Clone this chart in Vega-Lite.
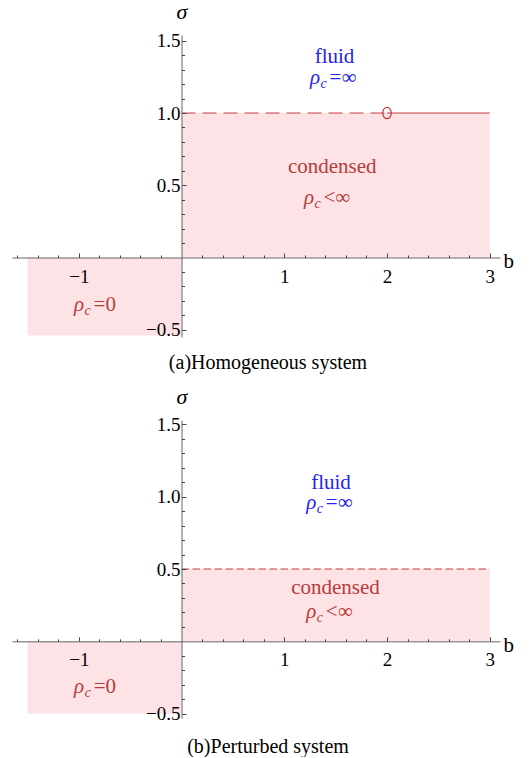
{
  "$schema": "https://vega.github.io/schema/vega-lite/v6.json",
  "background": "white",
  "padding": {"left": 12, "top": 0, "right": 0, "bottom": 0},
  "spacing": 12,
  "config": {"view": {"stroke": null}},
  "vconcat": [
    {
      "width": 488,
      "height": 302,
      "title": {"text": "(a)Homogeneous system", "orient": "bottom", "anchor": "middle", "offset": 13, "dx": 12, "font": "Liberation Serif, serif", "fontSize": 20, "fontWeight": "normal", "color": "#000"},
      "encoding": {
        "x": {"field": "x", "type": "quantitative", "scale": {"domain": [-1.65, 3.1], "nice": false, "zero": false}, "axis": null},
        "y": {"field": "y", "type": "quantitative", "scale": {"domain": [-0.55, 1.54], "nice": false, "zero": false}, "axis": null}
      },
      "layer": [
        {
          "data": {"values": [{"x": 0, "x2": 3, "y": 0, "y2": 1}, {"x": -1.5, "x2": 0, "y": -0.54, "y2": 0}]},
          "mark": {"type": "rect", "color": "#fde3e5"},
          "encoding": {
            "x": {"field": "x", "type": "quantitative", "scale": {"domain": [-1.65, 3.1], "nice": false, "zero": false},
              "axis": {"orient": "bottom", "offset": -79.47, "values": [-1, 1, 2, 3], "format": "d", "tickSize": -4.5, "tickWidth": 1, "tickColor": "#444", "domainColor": "#666", "domainWidth": 1, "labelFont": "Liberation Serif, serif", "labelFontSize": 19, "labelColor": "#000", "labelPadding": 14, "labelFlush": false, "labelOverlap": false, "grid": false, "title": "b", "titleFont": "Liberation Serif, serif", "titleFontSize": 21, "titleFontWeight": "normal", "titleColor": "#000", "titleAngle": 0, "titleAlign": "left", "titleBaseline": "alphabetic", "titleX": 491, "titleY": 10, "zindex": 1}},
            "x2": {"field": "x2"},
            "y": {"field": "y", "type": "quantitative", "scale": {"domain": [-0.55, 1.54], "nice": false, "zero": false},
              "axis": {"orient": "left", "offset": -169.5, "values": [-0.5, 0.5, 1, 1.5], "format": ".1f", "tickSize": -4.5, "tickWidth": 1, "tickColor": "#444", "domainColor": "#666", "domainWidth": 1, "labelFont": "Liberation Serif, serif", "labelFontSize": 19, "labelColor": "#000", "labelPadding": 6, "labelFlush": false, "labelOverlap": false, "grid": false, "title": "σ", "titleFont": "Liberation Serif, serif", "titleFontStyle": "italic", "titleFontSize": 22, "titleFontWeight": "normal", "titleColor": "#000", "titleAngle": 0, "titleAlign": "center", "titleBaseline": "alphabetic", "titleX": 0, "titleY": -17, "zindex": 1}},
            "y2": {"field": "y2"}
          }
        },
        {
          "data": {"values": [{"x": 0, "y": 1}, {"x": 2, "y": 1}]},
          "mark": {"type": "line", "color": "#c4393c", "strokeWidth": 1, "strokeDash": [14, 7]},
          "encoding": {
            "x": {"field": "x", "type": "quantitative", "scale": {"domain": [-1.65, 3.1], "nice": false, "zero": false},
              "axis": {"orient": "bottom", "offset": -79.47, "values": [-1.6, -1.4, -1.2, -0.8, -0.6, -0.4, -0.2, 0.2, 0.4, 0.6, 0.8, 1.2, 1.4, 1.6, 1.8, 2.2, 2.4, 2.6, 2.8], "tickSize": -2.5, "tickWidth": 1, "tickColor": "#444", "labels": false, "domain": false, "grid": false, "title": null, "zindex": 1}},
            "y": {"field": "y", "type": "quantitative", "scale": {"domain": [-0.55, 1.54], "nice": false, "zero": false},
              "axis": {"orient": "left", "offset": -169.5, "values": [-0.4, -0.3, -0.2, -0.1, 0.1, 0.2, 0.3, 0.4, 0.6, 0.7, 0.8, 0.9, 1.1, 1.2, 1.3, 1.4], "tickSize": -3, "tickWidth": 1, "tickColor": "#444", "labels": false, "domain": false, "grid": false, "title": null, "zindex": 1}}
          }
        },
        {
          "data": {"values": [{"x": 2, "y": 1}, {"x": 3, "y": 1}]},
          "mark": {"type": "line", "color": "#c4393c", "strokeWidth": 1},
          "encoding": {}
        },
        {
          "data": {"values": [{"x": 2, "y": 1}]},
          "mark": {"type": "point", "shape": "M0,-1.2A0.9,1.2 0 1,1 0,1.2A0.9,1.2 0 1,1 0,-1.2Z", "size": 90, "filled": false, "color": "#c4393c", "strokeWidth": 1.2, "opacity": 1},
          "encoding": {}
        },
        {
          "data": {"values": [{"x": 1.489, "y": 1.346, "text": "fluid", "phase": "fluid"}, {"x": 1.467, "y": 0.586, "text": "condensed", "phase": "condensed"}]},
          "mark": {"type": "text", "font": "Liberation Serif, serif", "fontSize": 21, "align": "center", "baseline": "alphabetic"},
          "encoding": {
            "text": {"field": "text"},
            "color": {"field": "phase", "type": "nominal", "scale": {"domain": ["fluid", "condensed"], "range": ["#2323f0", "#b93a3c"]}, "legend": null}
          }
        },
        {
          "data": {"values": [{"x": 1.436, "y": 1.201, "rest": "=∞", "phase": "fluid"}, {"x": 1.377, "y": 0.367, "rest": "<∞", "phase": "condensed"}, {"x": -0.861, "y": -0.367, "rest": "=0", "phase": "condensed"}]},
          "encoding": {
            "color": {"field": "phase", "type": "nominal", "scale": {"domain": ["fluid", "condensed"], "range": ["#2323f0", "#b93a3c"]}, "legend": null}
          },
          "layer": [
            {"mark": {"type": "text", "text": "ρ", "font": "Liberation Serif, serif", "fontStyle": "italic", "fontSize": 21, "align": "right", "baseline": "alphabetic", "dx": -9}},
            {"mark": {"type": "text", "text": "c", "font": "Liberation Serif, serif", "fontStyle": "italic", "fontSize": 14, "align": "left", "baseline": "alphabetic", "dx": -8.5, "dy": 4}},
            {"mark": {"type": "text", "font": "Liberation Serif, serif", "fontSize": 21, "align": "left", "baseline": "alphabetic", "dx": 0.5}, "encoding": {"text": {"field": "rest"}}}
          ]
        }
      ],
      "resolve": {"axis": {"x": "independent", "y": "independent"}}
    },
    {
      "width": 488,
      "height": 298,
      "title": {"text": "(b)Perturbed system", "orient": "bottom", "anchor": "middle", "offset": 13, "dx": 12, "font": "Liberation Serif, serif", "fontSize": 20, "fontWeight": "normal", "color": "#000"},
      "encoding": {
        "x": {"field": "x", "type": "quantitative", "scale": {"domain": [-1.65, 3.1], "nice": false, "zero": false}, "axis": null},
        "y": {"field": "y", "type": "quantitative", "scale": {"domain": [-0.53, 1.53], "nice": false, "zero": false}, "axis": null}
      },
      "layer": [
        {
          "data": {"values": [{"x": 0, "x2": 3, "y": 0, "y2": 0.5}, {"x": -1.5, "x2": 0, "y": -0.5, "y2": 0}]},
          "mark": {"type": "rect", "color": "#fde3e5"},
          "encoding": {
            "x": {"field": "x", "type": "quantitative", "scale": {"domain": [-1.65, 3.1], "nice": false, "zero": false},
              "axis": {"orient": "bottom", "offset": -76.67, "values": [-1, 1, 2, 3], "format": "d", "tickSize": -4.5, "tickWidth": 1, "tickColor": "#444", "domainColor": "#666", "domainWidth": 1, "labelFont": "Liberation Serif, serif", "labelFontSize": 19, "labelColor": "#000", "labelPadding": 14, "labelFlush": false, "labelOverlap": false, "grid": false, "title": "b", "titleFont": "Liberation Serif, serif", "titleFontSize": 21, "titleFontWeight": "normal", "titleColor": "#000", "titleAngle": 0, "titleAlign": "left", "titleBaseline": "alphabetic", "titleX": 491, "titleY": 10, "zindex": 1}},
            "x2": {"field": "x2"},
            "y": {"field": "y", "type": "quantitative", "scale": {"domain": [-0.53, 1.53], "nice": false, "zero": false},
              "axis": {"orient": "left", "offset": -169.5, "values": [-0.5, 0.5, 1, 1.5], "format": ".1f", "tickSize": -4.5, "tickWidth": 1, "tickColor": "#444", "domainColor": "#666", "domainWidth": 1, "labelFont": "Liberation Serif, serif", "labelFontSize": 19, "labelColor": "#000", "labelPadding": 6, "labelFlush": false, "labelOverlap": false, "grid": false, "title": "σ", "titleFont": "Liberation Serif, serif", "titleFontStyle": "italic", "titleFontSize": 22, "titleFontWeight": "normal", "titleColor": "#000", "titleAngle": 0, "titleAlign": "center", "titleBaseline": "alphabetic", "titleX": 0, "titleY": -17, "zindex": 1}},
            "y2": {"field": "y2"}
          }
        },
        {
          "data": {"values": [{"x": 0, "y": 0.5}, {"x": 3, "y": 0.5}]},
          "mark": {"type": "line", "color": "#c4393c", "strokeWidth": 1, "strokeDash": [7.5, 3.5]},
          "encoding": {
            "x": {"field": "x", "type": "quantitative", "scale": {"domain": [-1.65, 3.1], "nice": false, "zero": false},
              "axis": {"orient": "bottom", "offset": -76.67, "values": [-1.6, -1.4, -1.2, -0.8, -0.6, -0.4, -0.2, 0.2, 0.4, 0.6, 0.8, 1.2, 1.4, 1.6, 1.8, 2.2, 2.4, 2.6, 2.8], "tickSize": -2.5, "tickWidth": 1, "tickColor": "#444", "labels": false, "domain": false, "grid": false, "title": null, "zindex": 1}},
            "y": {"field": "y", "type": "quantitative", "scale": {"domain": [-0.53, 1.53], "nice": false, "zero": false},
              "axis": {"orient": "left", "offset": -169.5, "values": [-0.4, -0.3, -0.2, -0.1, 0.1, 0.2, 0.3, 0.4, 0.6, 0.7, 0.8, 0.9, 1.1, 1.2, 1.3, 1.4], "tickSize": -3, "tickWidth": 1, "tickColor": "#444", "labels": false, "domain": false, "grid": false, "title": null, "zindex": 1}}
          }
        },
        {
          "data": {"values": [{"x": 1.455, "y": 1.052, "text": "fluid", "phase": "fluid"}, {"x": 1.499, "y": 0.325, "text": "condensed", "phase": "condensed"}]},
          "mark": {"type": "text", "font": "Liberation Serif, serif", "fontSize": 21, "align": "center", "baseline": "alphabetic"},
          "encoding": {
            "text": {"field": "text"},
            "color": {"field": "phase", "type": "nominal", "scale": {"domain": ["fluid", "condensed"], "range": ["#2323f0", "#b93a3c"]}, "legend": null}
          }
        },
        {
          "data": {"values": [{"x": 1.4, "y": 0.913, "rest": "=∞", "phase": "fluid"}, {"x": 1.4, "y": 0.159, "rest": "<∞", "phase": "condensed"}, {"x": -0.86, "y": -0.356, "rest": "=0", "phase": "condensed"}]},
          "encoding": {
            "color": {"field": "phase", "type": "nominal", "scale": {"domain": ["fluid", "condensed"], "range": ["#2323f0", "#b93a3c"]}, "legend": null}
          },
          "layer": [
            {"mark": {"type": "text", "text": "ρ", "font": "Liberation Serif, serif", "fontStyle": "italic", "fontSize": 21, "align": "right", "baseline": "alphabetic", "dx": -9}},
            {"mark": {"type": "text", "text": "c", "font": "Liberation Serif, serif", "fontStyle": "italic", "fontSize": 14, "align": "left", "baseline": "alphabetic", "dx": -8.5, "dy": 4}},
            {"mark": {"type": "text", "font": "Liberation Serif, serif", "fontSize": 21, "align": "left", "baseline": "alphabetic", "dx": 0.5}, "encoding": {"text": {"field": "rest"}}}
          ]
        }
      ],
      "resolve": {"axis": {"x": "independent", "y": "independent"}}
    }
  ]
}
